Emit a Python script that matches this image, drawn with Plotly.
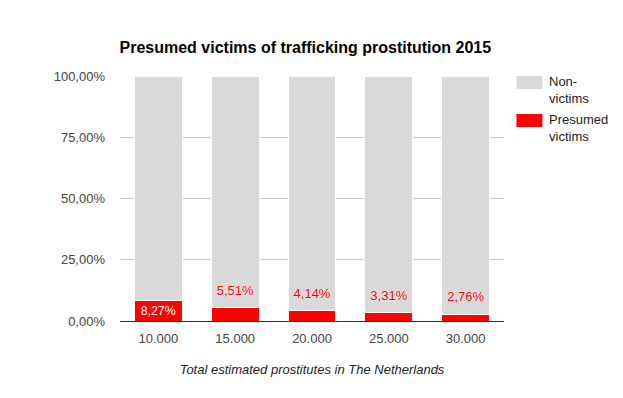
import plotly.graph_objects as go

categories = ["10.000", "15.000", "20.000", "25.000", "30.000"]
victims = [8.27, 5.51, 4.14, 3.31, 2.76]
non_victims = [100 - v for v in victims]
labels = ["8,27%", "5,51%", "4,14%", "3,31%", "2,76%"]
y_tickvals = [0, 25, 50, 75, 100]
y_ticktext = ["0,00%", "25,00%", "50,00%", "75,00%", "100,00%"]
legend_names = ["Non-<br>victims", "Presumed<br>victims"]
legend_colors = ["#d9d9d9", "#ff0000"]

FONT = "Liberation Sans, Arial, sans-serif"
W, H = 615, 390  # page body has an 8px margin

fig = go.Figure()
fig.add_trace(go.Bar(
    x=categories, y=victims, name="Presumed victims",
    marker=dict(color="#ff0000", line=dict(color="white", width=1)),
    text=[labels[0]] + [""] * (len(labels) - 1),
    textposition="inside", insidetextanchor="middle",
    textfont=dict(color="white", size=13, family=FONT),
    hoverinfo="skip", width=0.62, showlegend=False,
))
fig.add_trace(go.Bar(
    x=categories, y=non_victims, name="Non-victims",
    marker=dict(color="#d9d9d9", line=dict(color="white", width=1)),
    hoverinfo="skip", width=0.62, showlegend=False,
))
fig.add_trace(go.Scatter(
    x=categories[1:], y=victims[1:], mode="markers+text", text=labels[1:],
    textposition="top center",
    marker=dict(size=14, color="rgba(0,0,0,0)"),
    textfont=dict(color="#ff0000", size=13, family=FONT,
                  shadow="0px 0px 2px white"),
    showlegend=False, hoverinfo="skip", cliponaxis=False,
))

# legend drawn as layout decoration (wide swatches like the reference)
plot_l, plot_r, plot_t, plot_b = 111.5, 118.5, 68, 77
def px_x(p):
    return (p - plot_l) / (W - plot_l - plot_r)
def px_y(p):
    return 1 - (p - plot_t) / (H - plot_t - plot_b)

legend_tops = [68, 106]
for name, color, top in zip(legend_names, legend_colors, legend_tops):
    fig.add_shape(type="rect", xref="paper", yref="paper",
                  x0=px_x(509), x1=px_x(535), y0=px_y(top), y1=px_y(top + 13),
                  fillcolor=color, line=dict(width=0))
    fig.add_annotation(xref="paper", yref="paper", x=px_x(540), y=px_y(top - 4),
                       xanchor="left", yanchor="top", align="left",
                       text=name, showarrow=False,
                       font=dict(size=13, color="#222222", family=FONT))

fig.update_layout(
    width=W, height=H,
    barmode="stack",
    paper_bgcolor="white", plot_bgcolor="white",
    margin=dict(l=plot_l, r=plot_r, t=plot_t, b=plot_b, autoexpand=False),
    font=dict(family=FONT, size=13, color="#444444"),
    title=dict(text="<b>Presumed victims of trafficking prostitution 2015</b>",
               x=111.5 / W, xanchor="left", y=1 - 39 / H, yanchor="middle",
               font=dict(size=16, color="black", family=FONT)),
    showlegend=False,
)
fig.update_xaxes(
    showgrid=False, showline=True, linecolor="#333333", linewidth=1,
    ticks="", ticklabelstandoff=5, tickfont=dict(size=13, color="#444444"),
    title=dict(text="<i>Total estimated prostitutes in The Netherlands</i>",
               font=dict(size=13, color="#222222"), standoff=20),
)
fig.update_yaxes(
    range=[0, 100], tickvals=y_tickvals, ticktext=y_ticktext,
    showgrid=True, gridcolor="#cccccc", zeroline=False,
    ticks="", ticklabelstandoff=14,
    tickfont=dict(size=13, color="#444444"),
)

fig.write_html("out.html")
